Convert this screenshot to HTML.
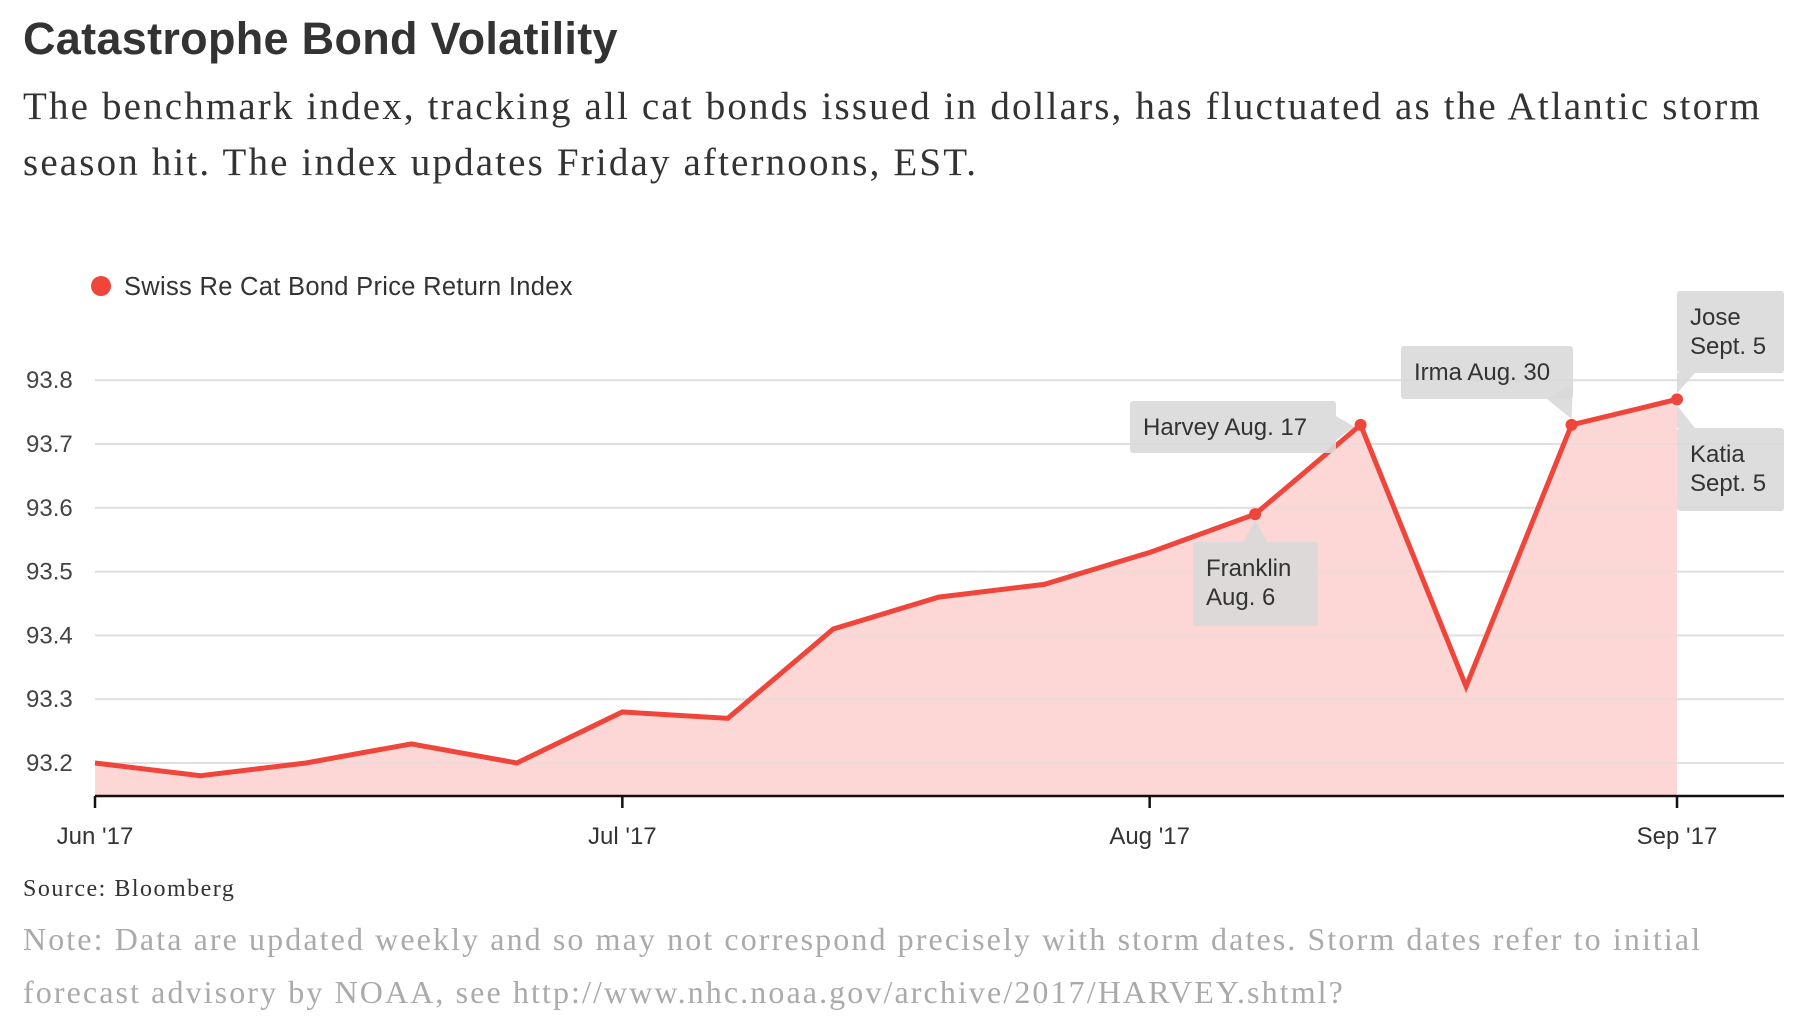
<!DOCTYPE html>
<html><head><meta charset="utf-8"><style>
html,body{margin:0;padding:0;background:#fff;width:1812px;height:1028px;overflow:hidden}
.t{position:absolute;white-space:nowrap}
#title{left:23px;top:13px;font:bold 45px "Liberation Sans",sans-serif;color:#333;letter-spacing:0.3px}
#sub{left:23px;top:79px;font:39px/56px "Liberation Serif",serif;color:#333;letter-spacing:2.15px}
#src{left:23px;top:876px;font:24px "Liberation Serif",serif;color:#333;letter-spacing:1.5px}
#note{left:23px;top:913px;font:32px/53px "Liberation Serif",serif;color:#aaa;letter-spacing:2.1px}
svg{position:absolute;left:0;top:0}
</style></head><body>
<div class="t" id="title">Catastrophe Bond Volatility</div>
<div class="t" id="sub">The benchmark index, tracking all cat bonds issued in dollars, has fluctuated as the Atlantic storm<br>season hit. The index updates Friday afternoons, EST.</div>
<div class="t" id="src">Source: Bloomberg</div>
<div class="t" id="note">Note: Data are updated weekly and so may not correspond precisely with storm dates. Storm dates refer to initial<br>forecast advisory by NOAA, see http://www.nhc.noaa.gov/archive/2017/HARVEY.shtml?</div>
<svg id="chart" width="1812" height="1028"></svg>
<script>
const values=[93.20,93.18,93.20,93.23,93.20,93.28,93.27,93.41,93.46,93.48,93.53,93.59,93.73,93.32,93.73,93.77];
const yTicks=[93.2,93.3,93.4,93.5,93.6,93.7,93.8];
const xTickIdx=[0,5,10,15];
const xTickLabels=["Jun '17","Jul '17","Aug '17","Sep '17"];
const markerIdx=[11,12,14,15];
const ns="http://www.w3.org/2000/svg";
const svg=document.getElementById('chart');
const X0=95,X1=1677,Y0=763,PX=638,AXY=796,GR=1784;
function x(i){return X0+(X1-X0)*i/(values.length-1);}
function y(v){return Y0-(v-93.2)*PX;}
function mk(tag,attrs,parent){const e=document.createElementNS(ns,tag);for(const k in attrs)e.setAttribute(k,attrs[k]);(parent||svg).appendChild(e);return e;}
let e=mk('circle',{cx:101,cy:286,r:10,fill:'#f0453a'});


e=mk('text',{x:124,y:295,'font-family':'Liberation Sans, sans-serif','font-size':25.5,fill:'#333','letter-spacing':0.3});
e.textContent='Swiss Re Cat Bond Price Return Index';


yTicks.forEach(v=>{
  let g=mk('line',{x1:X0,x2:GR,y1:y(v),y2:y(v),stroke:'#e2e2e2','stroke-width':2});
  
  
  let t=mk('text',{x:26,y:y(v)+8,'font-family':'Liberation Sans, sans-serif','font-size':24,fill:'#444'});
  t.textContent=v.toFixed(1);
  
  
});
let d='M'+x(0)+','+AXY;
values.forEach((v,i)=>{d+=' L'+x(i)+','+y(v);});
d+=' L'+x(values.length-1)+','+AXY+' Z';
e=mk('path',{d:d,fill:'#fdd7d6'});


yTicks.forEach(v=>{
  let g=mk('line',{x1:X0,x2:GR,y1:y(v),y2:y(v),stroke:'#ddd','stroke-opacity':0.5,'stroke-width':2});
  
  
});
e=mk('polyline',{points:values.map((v,i)=>x(i)+','+y(v)).join(' '),fill:'none',stroke:'#f0453a','stroke-width':5,'stroke-linejoin':'miter'});


markerIdx.forEach(i=>{
  let c=mk('circle',{cx:x(i),cy:y(values[i]),r:6,fill:'#f0453a'});
  
  
});
e=mk('line',{x1:X0,x2:GR,y1:AXY,y2:AXY,stroke:'#111','stroke-width':2.5});


xTickIdx.forEach((i,k)=>{
  let l=mk('line',{x1:x(i),x2:x(i),y1:AXY,y2:AXY+12,stroke:'#111','stroke-width':2.5});
  
  
  let t=mk('text',{x:x(i),y:844,'text-anchor':'middle','font-family':'Liberation Sans, sans-serif','font-size':24,fill:'#333'});
  t.textContent=xTickLabels[k];
  
  
});
function ann(i,name,lines,bx,by,bw,bh,ptr){
  const px=x(i),py=y(values[i]);
  const g=mk('g',{});
  
  
  mk('rect',{x:bx,y:by,width:bw,height:bh,rx:3,fill:'#d9d9d9','fill-opacity':0.9},g);
  mk('polygon',{points:ptr(px,py),fill:'#d9d9d9','fill-opacity':0.9},g);
  lines.forEach((s,k)=>{
    const t=mk('text',{x:bx+13,y:by+34+k*29,'font-family':'Liberation Sans, sans-serif','font-size':24,fill:'#333'},g);
    t.textContent=s;
  });
}
ann(12,'harvey-annotation',['Harvey Aug. 17'],1130,401,206,52,(px,py)=>`1336,416 ${px-6},${py+2} 1336,440`);
ann(11,'franklin-annotation',['Franklin','Aug. 6'],1193,542,125,84,(px,py)=>`${px-12},542 ${px},${py+6} ${px+12},542`);
ann(14,'irma-annotation',['Irma Aug. 30'],1401,346,172,53,(px,py)=>`1547,399 ${px},${py-6} 1573,384`);
ann(15,'jose-annotation',['Jose','Sept. 5'],1677,291,107,82,(px,py)=>`${px},373 ${px},${py-6} ${px+18},373`);
ann(15,'katia-annotation',['Katia','Sept. 5'],1677,428,107,83,(px,py)=>`${px},428 ${px},${py+6} ${px+18},428`);
</script>
</body></html>
